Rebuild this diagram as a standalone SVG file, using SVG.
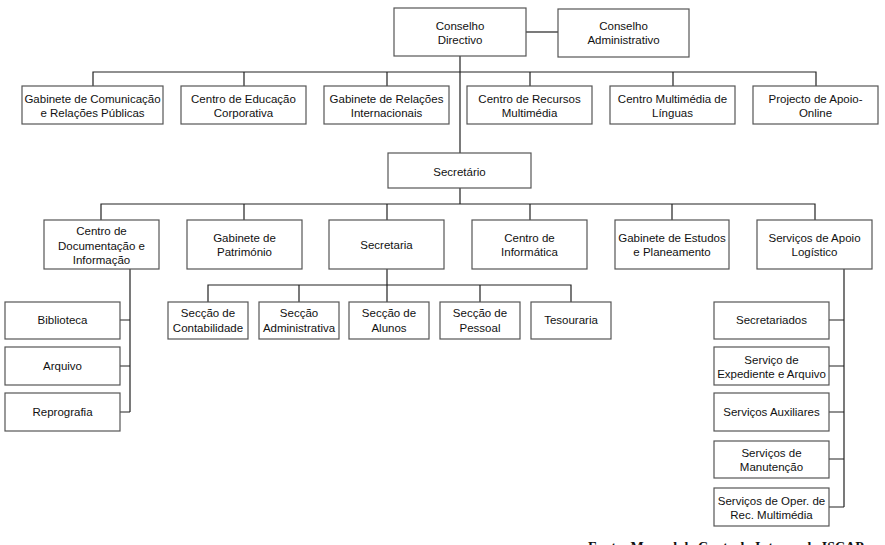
<svg xmlns="http://www.w3.org/2000/svg" width="885" height="545" viewBox="0 0 885 545">
<style>
.b{fill:#fff;stroke:#555;stroke-width:1.2}
.t{font-family:"Liberation Sans",Arial,sans-serif;font-size:11.5px;fill:#111;text-anchor:middle}
.c{fill:none;stroke:#222;stroke-width:1.2}
.cap{font-family:"Liberation Serif","Times New Roman",serif;font-size:14px;font-weight:bold;fill:#111}
</style>
<rect width="885" height="545" fill="#fff"/>
<g id="connectors">
<path class="c" d="M526 32H558"/>
<path class="c" d="M460 56V153"/>
<path class="c" d="M93 86V72H816V86M244 72V86M387 72V86M530 72V86M673 72V86"/>
<path class="c" d="M460 188V204M101 220V204H815V220M244 204V220M387 204V220M530 204V220M672 204V220"/>
<path class="c" d="M130 269V412M120 320H130M120 366H130M120 412H130"/>
<path class="c" d="M387 269V302M208 302V285H571V302M299 285V302M480 285V302"/>
<path class="c" d="M844 269V507M829 320H844M829 366H844M829 412H844M829 459H844M829 507H844"/>
</g>
<g id="conselho-directivo"><rect class="b" x="394" y="8" width="132" height="48"/><text class="t" x="460" y="30">Conselho</text><text class="t" x="460" y="44">Directivo</text></g>
<g id="conselho-administrativo"><rect class="b" x="558" y="9" width="131" height="48"/><text class="t" x="623.5" y="30">Conselho</text><text class="t" x="623.5" y="44">Administrativo</text></g>
<g id="gab-comunicacao"><rect class="b" x="22" y="86" width="141" height="38"/><text class="t" x="92.5" y="103">Gabinete de Comunicação</text><text class="t" x="92.5" y="117">e Relações Públicas</text></g>
<g id="centro-educacao"><rect class="b" x="181" y="86" width="125" height="38"/><text class="t" x="243.5" y="103">Centro de Educação</text><text class="t" x="243.5" y="117">Corporativa</text></g>
<g id="gab-relacoes"><rect class="b" x="324" y="86" width="125" height="38"/><text class="t" x="386.5" y="103">Gabinete de Relações</text><text class="t" x="386.5" y="117">Internacionais</text></g>
<g id="centro-recursos"><rect class="b" x="467" y="86" width="125" height="38"/><text class="t" x="529.5" y="103">Centro de Recursos</text><text class="t" x="529.5" y="117">Multimédia</text></g>
<g id="centro-linguas"><rect class="b" x="610" y="86" width="125" height="38"/><text class="t" x="672.5" y="103">Centro Multimédia de</text><text class="t" x="672.5" y="117">Línguas</text></g>
<g id="projecto-apoio"><rect class="b" x="753" y="86" width="125" height="38"/><text class="t" x="815.5" y="103">Projecto de Apoio-</text><text class="t" x="815.5" y="117">Online</text></g>
<g id="secretario"><rect class="b" x="388" y="153" width="143" height="35"/><text class="t" x="459.5" y="176">Secretário</text></g>
<g id="cdi"><rect class="b" x="44" y="220" width="115" height="49"/><text class="t" x="101.5" y="235">Centro de</text><text class="t" x="101.5" y="250">Documentação e</text><text class="t" x="101.5" y="264">Informação</text></g>
<g id="gab-patrimonio"><rect class="b" x="187" y="220" width="115" height="49"/><text class="t" x="244.5" y="242">Gabinete de</text><text class="t" x="244.5" y="256">Património</text></g>
<g id="secretaria"><rect class="b" x="329" y="220" width="115" height="49"/><text class="t" x="386.5" y="249">Secretaria</text></g>
<g id="centro-informatica"><rect class="b" x="472" y="220" width="115" height="49"/><text class="t" x="529.5" y="242">Centro de</text><text class="t" x="529.5" y="256">Informática</text></g>
<g id="gab-estudos"><rect class="b" x="615" y="220" width="114" height="49"/><text class="t" x="672" y="242">Gabinete de Estudos</text><text class="t" x="672" y="256">e Planeamento</text></g>
<g id="servicos-apoio"><rect class="b" x="757" y="220" width="115" height="49"/><text class="t" x="814.5" y="242">Serviços de Apoio</text><text class="t" x="814.5" y="256">Logístico</text></g>
<g id="biblioteca"><rect class="b" x="5" y="302" width="115" height="37"/><text class="t" x="62.5" y="324">Biblioteca</text></g>
<g id="arquivo"><rect class="b" x="5" y="347" width="115" height="38"/><text class="t" x="62.5" y="370">Arquivo</text></g>
<g id="reprografia"><rect class="b" x="5" y="393" width="115" height="38"/><text class="t" x="62.5" y="416">Reprografia</text></g>
<g id="sec-contabilidade"><rect class="b" x="168" y="302" width="80" height="37"/><text class="t" x="208" y="317">Secção de</text><text class="t" x="208" y="332">Contabilidade</text></g>
<g id="sec-administrativa"><rect class="b" x="259" y="302" width="80" height="37"/><text class="t" x="299" y="317">Secção</text><text class="t" x="299" y="332">Administrativa</text></g>
<g id="sec-alunos"><rect class="b" x="349" y="302" width="80" height="37"/><text class="t" x="389" y="317">Secção de</text><text class="t" x="389" y="332">Alunos</text></g>
<g id="sec-pessoal"><rect class="b" x="440" y="302" width="80" height="37"/><text class="t" x="480" y="317">Secção de</text><text class="t" x="480" y="332">Pessoal</text></g>
<g id="tesouraria"><rect class="b" x="531" y="302" width="80" height="37"/><text class="t" x="571" y="324">Tesouraria</text></g>
<g id="secretariados"><rect class="b" x="714" y="302" width="115" height="37"/><text class="t" x="771.5" y="324">Secretariados</text></g>
<g id="expediente"><rect class="b" x="714" y="347" width="115" height="38"/><text class="t" x="771.5" y="364">Serviço de</text><text class="t" x="771.5" y="378">Expediente e Arquivo</text></g>
<g id="auxiliares"><rect class="b" x="714" y="393" width="115" height="38"/><text class="t" x="771.5" y="416">Serviços Auxiliares</text></g>
<g id="manutencao"><rect class="b" x="714" y="441" width="115" height="37"/><text class="t" x="771.5" y="457">Serviços de</text><text class="t" x="771.5" y="471">Manutenção</text></g>
<g id="oper-multimedia"><rect class="b" x="714" y="488" width="115" height="38"/><text class="t" x="771.5" y="505">Serviços de Oper. de</text><text class="t" x="771.5" y="519">Rec. Multimédia</text></g>
<text class="cap" x="588" y="552">Fonte: Manual de Controlo Interno do ISCAP</text>
</svg>
